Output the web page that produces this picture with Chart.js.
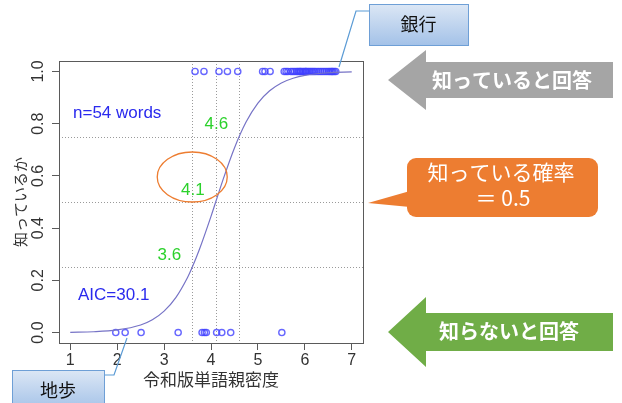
<!DOCTYPE html>
<html lang="ja">
<head>
<meta charset="UTF-8">
<title>単語親密度と既知率</title>
<script src="https://cdn.jsdelivr.net/npm/chart.js"></script>
<style>
  html, body { margin: 0; padding: 0; background: #fff; }
  canvas { display: block; }
</style>
</head>
<body>
<canvas id="famChart" width="622" height="403"></canvas>
<script>
// axis ticks
const xTicks = [1, 2, 3, 4, 5, 6, 7];
const yTicks = [0, 0.2, 0.4, 0.6, 0.8, 1.0];

// words answered "known" (y = 1) and "unknown" (y = 0), by familiarity
const knownX = [3.66, 3.85, 4.17, 4.35, 4.57, 5.10, 5.15, 5.26,
  5.56, 5.60, 5.64, 5.70, 5.74, 5.78, 5.82, 5.85, 5.88, 5.90, 5.92,
  5.95, 5.98, 6.01, 6.02, 6.04, 6.07, 6.10, 6.13, 6.16, 6.19, 6.22,
  6.26, 6.30, 6.34, 6.38, 6.42, 6.46, 6.50, 6.53, 6.56, 6.58, 6.60, 6.63, 6.66];
const unknownX = [1.97, 2.17, 2.51, 3.30, 3.81, 3.86, 3.90, 4.12, 4.23, 4.42, 5.51];

// fitted logistic curve, sampled
const curveX = [1.0, 1.5, 2.0, 2.5, 2.75, 3.0, 3.25, 3.5, 3.6, 3.75, 4.0, 4.1, 4.25,
  4.5, 4.75, 5.0, 5.25, 5.5, 5.75, 6.0, 6.5, 7.0];
const curveP = [0.001, 0.003, 0.010, 0.029, 0.049, 0.082, 0.134, 0.211, 0.25, 0.317, 0.445, 0.5, 0.582,
  0.707, 0.807, 0.879, 0.926, 0.956, 0.974, 0.985, 0.995, 0.998];

// probability cut lines and the familiarity where the curve crosses them
const cutProb = [0.25, 0.5, 0.75];
const cutX = [3.6, 4.1, 4.6];
const cutLabels = ['3.6', '4.1', '4.6'];

const wordCount = 'n=54 words';
const aicText = 'AIC=30.1';

const RFONT = '"Liberation Sans", Arial, "Noto Sans CJK JP", sans-serif';
const JFONT = '"Noto Sans CJK JP", sans-serif';

function arrowLeft(ctx, tipX, tipY, baseX, headHalf, bodyHalf, endX, color) {
  ctx.beginPath();
  ctx.moveTo(tipX, tipY);
  ctx.lineTo(baseX, tipY - headHalf);
  ctx.lineTo(baseX, tipY - bodyHalf);
  ctx.lineTo(endX, tipY - bodyHalf);
  ctx.lineTo(endX, tipY + bodyHalf);
  ctx.lineTo(baseX, tipY + bodyHalf);
  ctx.lineTo(baseX, tipY + headHalf);
  ctx.closePath();
  ctx.fillStyle = color;
  ctx.fill();
}

function blueBox(ctx, x, y, w, h, text) {
  const g = ctx.createLinearGradient(0, y, 0, y + h);
  g.addColorStop(0, '#dce7f5');
  g.addColorStop(1, '#a4c2e8');
  ctx.fillStyle = g;
  ctx.fillRect(x, y, w, h);
  ctx.strokeStyle = '#6e9fd6';
  ctx.lineWidth = 1;
  ctx.strokeRect(x + 0.5, y + 0.5, w, h);
  ctx.fillStyle = '#111';
  ctx.font = '18px ' + JFONT;
  ctx.textAlign = 'center';
  ctx.textBaseline = 'middle';
  ctx.fillText(text, x + w / 2, y + h / 2);
}

const decor = {
  id: 'decor',
  beforeDatasetsDraw(chart) {
    const {ctx, chartArea: a, scales: {x, y}} = chart;
    ctx.save();
    ctx.strokeStyle = '#9a9a9a';
    ctx.lineWidth = 1;
    ctx.setLineDash([1, 2]);
    cutProb.forEach(p => {
      const py = Math.round(y.getPixelForValue(p)) + 0.5;
      ctx.beginPath(); ctx.moveTo(a.left, py); ctx.lineTo(a.right, py); ctx.stroke();
    });
    cutX.forEach(v => {
      const px = Math.round(x.getPixelForValue(v)) + 0.5;
      ctx.beginPath(); ctx.moveTo(px, a.top); ctx.lineTo(px, a.bottom); ctx.stroke();
    });
    ctx.setLineDash([]);
    // plot box
    ctx.strokeStyle = '#5a5a5a';
    ctx.strokeRect(a.left + 0.5, a.top + 0.5, a.right - a.left, a.bottom - a.top);
    ctx.restore();
  },
  afterDraw(chart) {
    const {ctx, chartArea: a, scales: {x, y}} = chart;
    ctx.save();

    // green crossing labels
    ctx.font = '17px ' + RFONT;
    ctx.fillStyle = '#2bd12b';
    ctx.textAlign = 'right';
    ctx.textBaseline = 'middle';
    cutX.forEach((v, i) => {
      ctx.fillText(cutLabels[i], x.getPixelForValue(v) - 11, y.getPixelForValue(cutProb[i]) - 12);
    });

    // blue notes
    ctx.fillStyle = '#2a2aee';
    ctx.textAlign = 'left';
    ctx.fillText(wordCount, a.left + 14, 113);
    ctx.fillText(aicText, a.left + 19, 295);

    // orange ring around the 0.5 crossing
    ctx.strokeStyle = '#ed7d31';
    ctx.lineWidth = 1.3;
    ctx.beginPath();
    ctx.ellipse(x.getPixelForValue(cutX[0]), y.getPixelForValue(0.5) - 25, 35, 25, 0, 0, Math.PI * 2);
    ctx.stroke();

    // callout lines
    ctx.strokeStyle = '#5b9bd5';
    ctx.lineWidth = 1.2;
    ctx.beginPath();
    ctx.moveTo(339, 67); ctx.lineTo(356, 11); ctx.lineTo(369, 11);
    ctx.stroke();
    ctx.beginPath();
    ctx.moveTo(127, 338); ctx.lineTo(114, 375); ctx.lineTo(104, 375);
    ctx.stroke();

    blueBox(ctx, 369, 4, 99, 41, '銀行');
    blueBox(ctx, 12, 370, 92, 40, '地歩');

    // arrows on the right
    arrowLeft(ctx, 388, 80, 426, 30, 18, 613, '#a5a5a5');
    arrowLeft(ctx, 388, 332, 426, 35, 19, 613, '#70ad47');
    ctx.fillStyle = '#fff';
    ctx.font = 'bold 20px ' + JFONT;
    ctx.textAlign = 'center';
    ctx.textBaseline = 'middle';
    ctx.fillText('知っていると回答', 512, 80);
    ctx.fillText('知らないと回答', 509, 331);

    // orange speech bubble
    ctx.fillStyle = '#ed7d31';
    ctx.beginPath();
    ctx.roundRect(407, 158, 191, 59, 9);
    ctx.fill();
    ctx.beginPath();
    ctx.moveTo(410, 191); ctx.lineTo(368, 203); ctx.lineTo(410, 207);
    ctx.closePath();
    ctx.fill();
    ctx.fillStyle = '#fff';
    ctx.font = '21px ' + JFONT;
    ctx.fillText('知っている確率', 501, 172);
    ctx.fillText('＝ 0.5', 503, 198);

    ctx.restore();
  }
};

new Chart(document.getElementById('famChart'), {
  type: 'scatter',
  data: {
    datasets: [
      {
        label: 'curve',
        data: curveX.map((v, i) => ({x: v, y: curveP[i]})),
        showLine: true,
        borderColor: '#7673c6',
        borderWidth: 1.2,
        pointRadius: 0,
        cubicInterpolationMode: 'monotone'
      },
      {
        label: 'known',
        data: knownX.map(v => ({x: v, y: 1})),
        borderColor: 'rgba(65,65,255,0.8)',
        backgroundColor: 'rgba(0,0,0,0)',
        borderWidth: 1.4,
        pointRadius: 3.1
      },
      {
        label: 'unknown',
        data: unknownX.map(v => ({x: v, y: 0})),
        borderColor: 'rgba(65,65,255,0.8)',
        backgroundColor: 'rgba(0,0,0,0)',
        borderWidth: 1.4,
        pointRadius: 3.1
      }
    ]
  },
  options: {
    responsive: false,
    devicePixelRatio: 1,
    animation: false,
    layout: { padding: { left: 0, right: 259, top: 61, bottom: 0 } },
    plugins: { legend: { display: false }, tooltip: { enabled: false } },
    scales: {
      x: {
        type: 'linear',
        min: 0.76,
        max: 7.24,
        afterBuildTicks: s => { s.ticks = xTicks.map(v => ({value: v})); },
        afterFit: s => { s.height = 60; },
        grid: { drawOnChartArea: false, drawTicks: true, tickLength: 7, color: '#5a5a5a' },
        border: { display: false },
        ticks: { color: '#333', font: { family: RFONT, size: 16 }, padding: 1, maxRotation: 0 },
        title: {
          display: true, text: '令和版単語親密度', color: '#333',
          font: { family: JFONT, size: 17 }, padding: { top: 0, bottom: 13 }
        }
      },
      y: {
        type: 'linear',
        min: -0.04,
        max: 1.04,
        afterBuildTicks: s => { s.ticks = yTicks.map(v => ({value: v})); },
        afterFit: s => { s.width = 59; },
        grid: { drawOnChartArea: false, drawTicks: true, tickLength: 7, color: '#5a5a5a' },
        border: { display: false },
        ticks: {
          color: '#333', font: { family: RFONT, size: 16 }, padding: 2,
          minRotation: 90, maxRotation: 90, crossAlign: 'center',
          callback: v => v.toFixed(1)
        },
        title: {
          display: true, text: '知っているか', color: '#333',
          font: { family: JFONT, size: 15 }, padding: { top: 11, bottom: 0 }
        }
      }
    }
  },
  plugins: [decor]
});
</script>
</body>
</html>
